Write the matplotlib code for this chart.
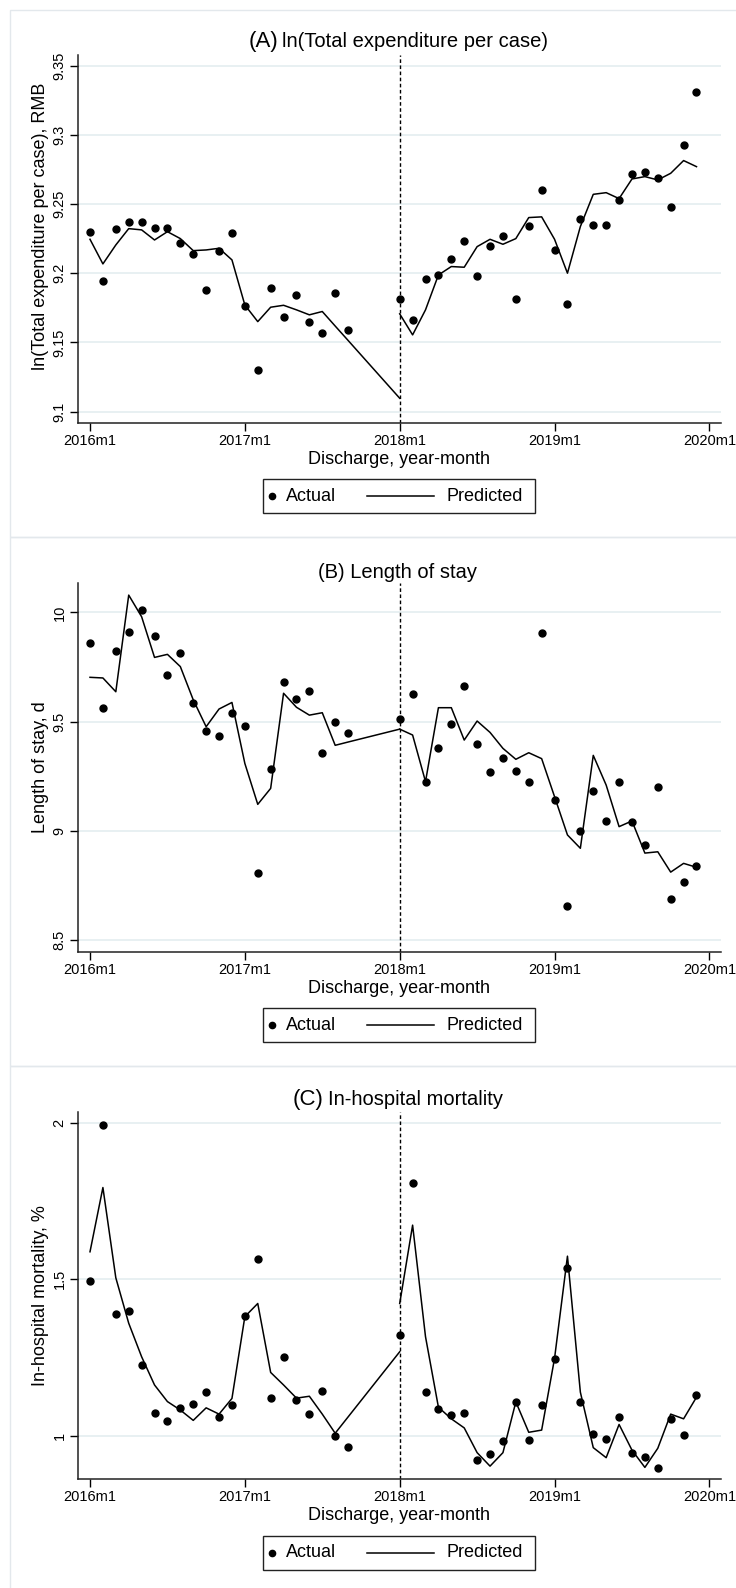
import numpy as np
import matplotlib
matplotlib.use("Agg")
import matplotlib.pyplot as plt
from matplotlib.patches import Rectangle
from matplotlib.lines import Line2D

plt.rcParams['font.family'] = ['Liberation Sans', 'DejaVu Sans']

# ---------------- data ----------------
months = [f"{y}m{m}" for y in range(2016, 2020) for m in range(1, 13)]
x_tick_labels = ["2016m1", "2017m1", "2018m1", "2019m1", "2020m1"]
intervention = "2018m1"
NA = np.nan

pre_months = months[0:21] + ["2018m1"]
post_months = months[24:48]

# (A) ln(Total expenditure per case)
exp_actual = [9.230, 9.194, 9.232, 9.237, 9.237, 9.233, 9.233, 9.222, 9.214, 9.188, 9.216, 9.229,
              9.176, 9.130, 9.189, 9.168, 9.184, 9.165, 9.157, 9.186, 9.159, NA, NA, NA,
              9.181, 9.166, 9.196, 9.199, 9.210, 9.223, 9.198, 9.220, 9.227, 9.181, 9.234, 9.260,
              9.217, 9.178, 9.239, 9.235, 9.235, 9.253, 9.272, 9.273, 9.269, 9.248, 9.293, 9.331]
exp_pred_pre = [9.2245, 9.2067, 9.2204, 9.2322, 9.2313, 9.2240, 9.2300, 9.2250, 9.2163, 9.2168, 9.2180, 9.2096,
                9.1770, 9.1650, 9.1754, 9.1768, 9.1735, 9.1699, 9.1723, 9.1618, 9.1514, 9.1096]
exp_pred_post = [9.1706, 9.1554, 9.1735, 9.1987, 9.2048, 9.2043, 9.2192, 9.2245, 9.2209, 9.2250, 9.2402, 9.2407,
                 9.2245, 9.2000, 9.2337, 9.2570, 9.2582, 9.2539, 9.2681, 9.2698, 9.2674, 9.2722, 9.2814, 9.2770]
exp_yticks = [9.1, 9.15, 9.2, 9.25, 9.3, 9.35]
exp_yticklabels = ["9.1", "9.15", "9.2", "9.25", "9.3", "9.35"]

# (B) Length of stay
los_actual = [9.858, 9.564, 9.825, 9.912, 10.011, 9.893, 9.715, 9.816, 9.585, 9.457, 9.434, 9.541,
              9.482, 8.808, 9.284, 9.680, 9.605, 9.642, 9.357, 9.498, 9.450, NA, NA, NA,
              9.511, 9.628, 9.223, 9.381, 9.489, 9.665, 9.398, 9.268, 9.335, 9.273, 9.223, 9.905,
              9.140, 8.657, 9.000, 9.181, 9.044, 9.223, 9.041, 8.936, 9.201, 8.691, 8.765, 8.840]
los_pred_pre = [9.703, 9.700, 9.637, 10.079, 9.980, 9.794, 9.808, 9.752, 9.600, 9.477, 9.558, 9.588,
                9.309, 9.122, 9.195, 9.630, 9.566, 9.530, 9.541, 9.392, 9.407, 9.466]
los_pred_post = [9.466, 9.439, 9.226, 9.564, 9.564, 9.416, 9.503, 9.451, 9.378, 9.328, 9.358, 9.331,
                 9.157, 8.982, 8.921, 9.346, 9.210, 9.020, 9.046, 8.899, 8.905, 8.812, 8.852, 8.834]
los_yticks = [8.5, 9, 9.5, 10]
los_yticklabels = ["8.5", "9", "9.5", "10"]

# (C) In-hospital mortality
mort_actual = [1.496, 1.994, 1.389, 1.399, 1.226, 1.075, 1.048, 1.088, 1.101, 1.139, 1.061, 1.098,
               1.383, 1.565, 1.123, 1.251, 1.115, 1.069, 1.145, 1.001, 0.965, NA, NA, NA,
               1.322, 1.809, 1.140, 1.087, 1.066, 1.073, 0.923, 0.944, 0.983, 1.109, 0.987, 1.098,
               1.246, 1.535, 1.109, 1.007, 0.991, 1.061, 0.945, 0.934, 0.898, 1.053, 1.003, 1.132]
mort_pred_pre = [1.588, 1.793, 1.505, 1.360, 1.253, 1.163, 1.110, 1.083, 1.050, 1.090, 1.070, 1.120,
                 1.381, 1.423, 1.203, 1.163, 1.121, 1.127, 1.070, 1.009, 1.061, 1.269]
mort_pred_post = [1.423, 1.673, 1.317, 1.092, 1.055, 1.026, 0.947, 0.904, 0.947, 1.109, 1.012, 1.019,
                  1.248, 1.574, 1.140, 0.963, 0.931, 1.037, 0.955, 0.900, 0.961, 1.070, 1.055, 1.124]
mort_yticks = [1, 1.5, 2]
mort_yticklabels = ["1", "1.5", "2"]

titles = [("(A)", "ln(Total expenditure per case)"),
          ("(B)", "Length of stay"),
          ("(C)", "In-hospital mortality")]
ylabels = ["ln(Total expenditure per case), RMB", "Length of stay, d", "In-hospital mortality, %"]
xlabel = "Discharge, year-month"
legend_labels = ["Actual", "Predicted"]


def month_index(label):
    y, m = label.split("m")
    return (int(y) - 2016) * 12 + int(m) - 1


# ---------------- layout (pixels) ----------------
W, H = 736, 1588
fig = plt.figure(figsize=(W / 100, H / 100), dpi=100)
fig.patch.set_facecolor("white")


def fx(p):
    return p / W


def fy(p):
    return 1 - p / H


AX_L, AX_R = 78.3, 720.5
panels = [
    dict(actual=exp_actual, pre=exp_pred_pre, post=exp_pred_post, ylim=(9.0915, 9.3577),
         yticks=exp_yticks, yticklabels=exp_yticklabels, box=(10, 537), ax=(55, 423.3),
         tbase=47, leg=496.2, big=True, ylab_y=0.535),
    dict(actual=los_actual, pre=los_pred_pre, post=los_pred_post, ylim=(8.448, 10.133),
         yticks=los_yticks, yticklabels=los_yticklabels, box=(537, 1066), ax=(583.3, 951.7),
         tbase=578, leg=1025, big=False, ylab_y=0.5),
    dict(actual=mort_actual, pre=mort_pred_pre, post=mort_pred_post, ylim=(0.862, 2.035),
         yticks=mort_yticks, yticklabels=mort_yticklabels, box=(1066, 1600), ax=(1111.7, 1479.3),
         tbase=1105, leg=1552.7, big=True, ylab_y=0.5),
]

grid_color = "#e4edf0"
box_color = "#e3e8ec"
renderer = fig.canvas.get_renderer()
x_all = [month_index(m) for m in months]
x_pre = [month_index(m) for m in pre_months]
x_post = [month_index(m) for m in post_months]

for i, p in enumerate(panels):
    # panel frame
    b0, b1 = p["box"]
    fig.add_artist(Rectangle((fx(10), fy(b1)), fx(760) - fx(10), (b1 - b0) / H,
                             transform=fig.transFigure, fill=False, ec=box_color, lw=1.0))

    t, bt = p["ax"]
    ax = fig.add_axes([fx(AX_L), fy(bt), fx(AX_R) - fx(AX_L), (bt - t) / H])
    ax.set_facecolor("white")

    ax.plot(x_all, p["actual"], linestyle="none", marker="o", ms=5, color="black", zorder=3)
    ax.plot(x_pre, p["pre"], color="black", lw=1.1, zorder=3)
    ax.plot(x_post, p["post"], color="black", lw=1.1, zorder=3)
    ax.axvline(month_index(intervention), color="black", lw=1.0, ls=(0, (2.6, 1.8)), zorder=2)

    ax.set_xlim(-0.907, 48.86)
    ax.set_ylim(*p["ylim"])
    ax.set_xticks([month_index(s) for s in x_tick_labels], x_tick_labels)
    ax.set_yticks(p["yticks"], p["yticklabels"], rotation=90, va="center")
    ax.tick_params(axis="both", direction="out", length=5.5, width=1.0, color="black",
                   labelsize=10.5, labelcolor="black")
    ax.tick_params(axis="x", pad=2.5)
    ax.tick_params(axis="y", pad=3)
    ax.set_axisbelow(True)
    ax.yaxis.grid(True, color=grid_color, lw=1.2)
    for s in ["top", "right"]:
        ax.spines[s].set_visible(False)
    for s in ["left", "bottom"]:
        ax.spines[s].set_linewidth(1.1)
        ax.spines[s].set_color("#222222")

    ax.set_xlabel(xlabel, fontsize=13)
    ax.xaxis.set_label_coords(0.5, -0.0995)
    ax.xaxis.label.set_verticalalignment("center")
    ax.set_ylabel(ylabels[i], fontsize=13)
    ax.yaxis.set_label_coords(-0.0581, p["ylab_y"])
    ax.yaxis.label.set_verticalalignment("center")
    ax.yaxis.label.set_horizontalalignment("center")

    # title
    letter, rest = titles[i]
    base = fy(p["tbase"])
    if p["big"]:
        t1 = fig.text(0, base, letter, fontsize=16, ha="left", va="baseline")
        t2 = fig.text(0, base, rest, fontsize=14.5, ha="left", va="baseline")
        w1 = t1.get_window_extent(renderer).width
        w2 = t2.get_window_extent(renderer).width
        gap = 4
        x0 = 398 - (w1 + gap + w2) / 2
        t1.set_x(fx(x0))
        t2.set_x(fx(x0 + w1 + gap))
    else:
        fig.text(fx(398), base, f"{letter} {rest}", fontsize=14.5, ha="center", va="baseline")

    # legend
    cy = p["leg"]
    fig.add_artist(Rectangle((fx(263), fy(cy + 17)), fx(535) - fx(263), 34 / H,
                             transform=fig.transFigure, fill=False, ec="#222222", lw=1.0))
    fig.add_artist(Line2D([fx(272)], [fy(cy)], marker="o", ms=4.5, color="black",
                          linestyle="none", transform=fig.transFigure))
    fig.text(fx(286), fy(cy), legend_labels[0], fontsize=13, ha="left", va="center")
    fig.add_artist(Line2D([fx(367), fx(434)], [fy(cy), fy(cy)], color="black", lw=1.1,
                          transform=fig.transFigure))
    fig.text(fx(447), fy(cy), legend_labels[1], fontsize=13, ha="left", va="center")

fig.savefig("out.png", dpi=100, facecolor="white")
